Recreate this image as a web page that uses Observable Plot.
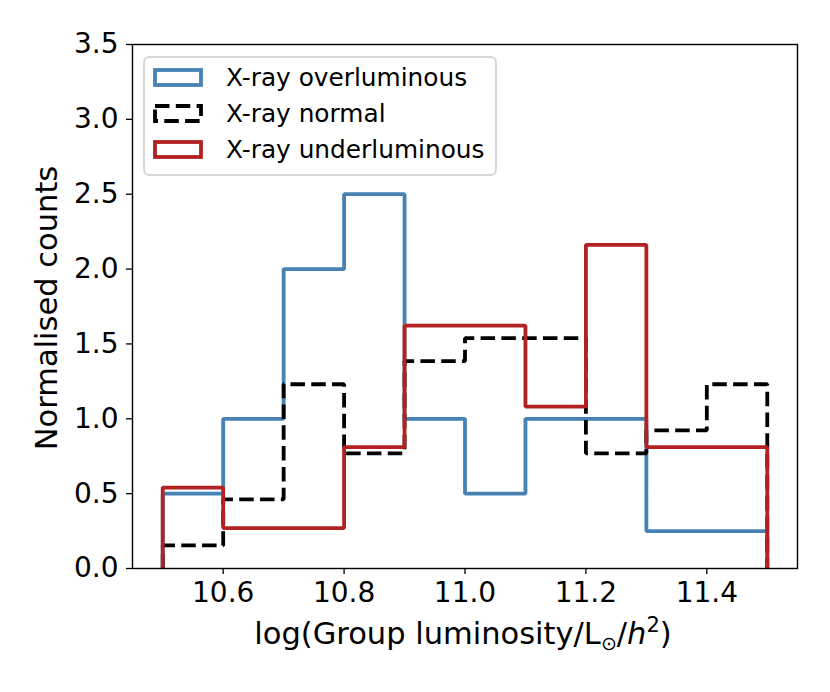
<!DOCTYPE html>
<html><head><meta charset="utf-8">
<script src="https://cdn.jsdelivr.net/npm/d3@7"></script>
<script src="https://cdn.jsdelivr.net/npm/@observablehq/plot@0.6"></script>
<style>body{margin:0;background:#fff;} svg{font-family:"DejaVu Sans",sans-serif;}</style>
</head><body><div id="chart"></div>
<script>
const binEdges = [10.5,10.6,10.7,10.8,10.9,11.0,11.1,11.2,11.3,11.4,11.5];
const overluminous = [0.5,1.0,2.0,2.5,1.0,0.5,1.0,1.0,0.25,0.25];
const normal = [1,3,8,5,9,10,10,5,6,8].map(c => c/6.5);
const underluminous = [2,1,1,3,6,6,4,8,3,3].map(c => c/3.7);
const xTicks = [10.6,10.8,11.0,11.2,11.4];
const yTicks = [0,0.5,1.0,1.5,2.0,2.5,3.0,3.5];
const seriesNames = ["X-ray overluminous","X-ray normal","X-ray underluminous"];
const colors = ["#4682b4","#000000","#b22222"];
const dashes = [null,"14.5,6.3",null];

function outline(vals, name){
  const pts = [{x:binEdges[0], y:0, s:name}];
  vals.forEach((v,i)=>{ pts.push({x:binEdges[i],y:v,s:name}); pts.push({x:binEdges[i+1],y:v,s:name}); });
  pts.push({x:binEdges[binEdges.length-1], y:0, s:name});
  return pts;
}
const all = [overluminous, normal, underluminous];
const sw = 3.8;
const marks = all.map((vals,i)=>Plot.line(outline(vals, seriesNames[i]), {x:"x", y:"y", stroke:colors[i], strokeWidth:sw, strokeDasharray:dashes[i], strokeLinejoin:"miter", strokeLinecap:"butt", clip:true}));

const svg = Plot.plot({
  width:830, height:692,
  marginLeft:132, marginRight:33, marginTop:44, marginBottom:124,
  style:{fontFamily:"DejaVu Sans", color:"black", background:"white"},
  x:{domain:[10.45,11.55]},
  y:{domain:[0,3.5]},
  marks:[
    ...marks,
    Plot.frame({stroke:"black", strokeWidth:1.4}),
    Plot.axisX({ticks:xTicks, tickFormat:d3.format(".1f"), tickSize:6, tickPadding:8, fontSize:28, label:null, strokeWidth:1.3}),
    Plot.axisY({ticks:yTicks, tickFormat:d3.format(".1f"), tickSize:6, tickPadding:8, fontSize:28, label:null, strokeWidth:1.3})
  ]
});
const s = d3.select(svg);
s.selectAll('g[aria-label$="tick label"]').style("font-size","28px");
s.selectAll('g[aria-label$="tick label"] text').style("font-size","28px");
// axis labels
const xl = s.append("text").attr("x", 463).attr("y", 644).style("text-anchor","middle").style("font-size","30.5px").attr("fill","black");
xl.append("tspan").text("log(Group luminosity/L");
xl.append("tspan").text("\u2299").style("font-size","19px").attr("dy",6);
xl.append("tspan").text("/").attr("dy",-6);
xl.append("tspan").text("h").style("font-style","italic");
xl.append("tspan").text("2").style("font-size","21px").attr("dy",-12);
xl.append("tspan").text(")").attr("dy",12);
s.append("text").attr("transform","translate(57,308) rotate(-90)").style("text-anchor","middle").style("font-size","30.5px").attr("fill","black").text("Normalised counts");
// legend
const lg = s.append("g");
lg.append("rect").attr("x",144).attr("y",57).attr("width",352).attr("height",118).attr("rx",5).attr("fill","white").attr("fill-opacity",0.8).attr("stroke","#cccccc").attr("stroke-width",1.4);
seriesNames.forEach((n,i)=>{
  const cy = 77.5 + i*36;
  lg.append("rect").attr("x",155).attr("y",cy-7.5).attr("width",46).attr("height",15).attr("fill","none").attr("stroke",colors[i]).attr("stroke-width",sw).attr("stroke-dasharray",dashes[i]);
  lg.append("text").attr("x",226).attr("y",cy).attr("dy","0.36em").style("text-anchor","start").style("font-size","24.8px").attr("fill","black").text(n);
});
document.getElementById("chart").appendChild(svg);
</script></body></html>
